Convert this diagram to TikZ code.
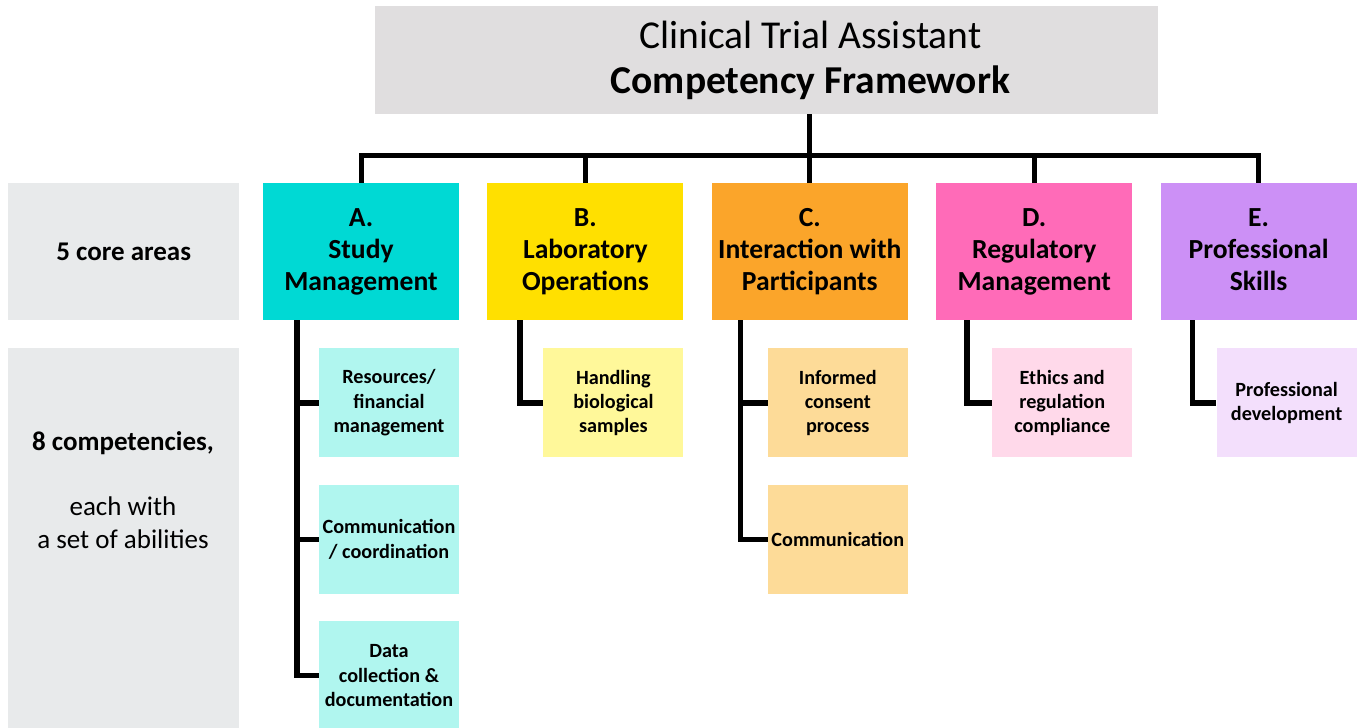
\documentclass[tikz,border=0pt]{standalone}
\usepackage{fontspec}
\setmainfont{Carlito}
\usetikzlibrary{positioning}

\definecolor{titlegray}{HTML}{E0DEDF}
\definecolor{sidegray}{HTML}{E8EAEB}
\definecolor{areaA}{HTML}{00D9D4}
\definecolor{compA}{HTML}{B0F6EF}
\definecolor{areaB}{HTML}{FFE000}
\definecolor{compB}{HTML}{FFF89A}
\definecolor{areaC}{HTML}{FBA52A}
\definecolor{compC}{HTML}{FDDB98}
\definecolor{areaD}{HTML}{FF6BB8}
\definecolor{compD}{HTML}{FFD9EA}
\definecolor{areaE}{HTML}{CC90F6}
\definecolor{compE}{HTML}{F3DFFC}

\tikzset{
  area/.style={minimum width=196pt, minimum height=137pt, inner sep=0pt,
    align=center, font=\fontsize{27.6}{32}\selectfont\bfseries},
  comp/.style={minimum width=140pt, minimum height=109pt, inner sep=0pt,
    align=center, font=\fontsize{20.2}{24.4}\selectfont\bfseries},
  side/.style={fill=sidegray, anchor=north west, inner sep=0pt, minimum width=231pt},
  sidetext/.style={align=center, font=\fontsize{27}{32.5}\selectfont},
  bus/.style={line width=5pt},
  tree/.style={line width=5.5pt},
}

\begin{document}
\begin{tikzpicture}[x=1pt,y=1pt]
\useasboundingbox (0,0) rectangle (1360,-728);
% Title
\node[fill=titlegray, minimum width=783pt, minimum height=108pt, inner sep=0pt] (title) at (766.5,-60) {};
\node[align=center, font=\fontsize{39.5}{45}\selectfont] (titletext) at ([xshift=44pt]title.center)
  {Clinical Trial Assistant\\\textbf{Competency Framework}};
% Left labels
\node[side, minimum height=137pt] (coreside) at (8,-183) {};
\node[sidetext, font=\fontsize{27}{32.5}\selectfont\bfseries] (coretext) at (coreside.center) {5 core areas};
\node[side, minimum height=385pt] (compside) at (8,-348) {};
\node[sidetext] (comptext) at (123,-490) {\textbf{8 competencies,}\\[32.5pt]each with\\a set of abilities};
% Core areas
\node[area, fill=areaA] (A) at (361,-251.5) {A.\\Study\\Management};
\node[area, fill=areaB, right=28pt of A] (B) {B.\\Laboratory\\Operations};
\node[area, fill=areaC, right=28pt of B] (C) {C.\\Interaction with\\Participants};
\node[area, fill=areaD, right=28pt of C] (D) {D.\\Regulatory\\Management};
\node[area, fill=areaE, right=28pt of D] (E) {E.\\Professional\\Skills\vphantom{g}};
% Competencies
\node[comp, fill=compA, below=28pt of A.south east, anchor=north east] (a1) {Resources/\\financial\\management};
\node[comp, fill=compA, below=27pt of a1] (a2) {Communication\\/ coordination};
\node[comp, fill=compA, below=27pt of a2] (a3) {Data\\collection \&\\documentation};
\node[comp, fill=compB, below=28pt of B.south east, anchor=north east] (b1) {Handling\\biological\\samples};
\node[comp, fill=compC, below=28pt of C.south east, anchor=north east] (c1) {Informed\\consent\\process};
\node[comp, fill=compC, below=27pt of c1] (c2) {Communication};
\node[comp, fill=compD, below=28pt of D.south east, anchor=north east] (d1) {Ethics and\\regulation\\compliance};
\node[comp, fill=compE, below=28pt of E.south east, anchor=north east] (e1) {Professional\\development};
% Bus from title to core areas
\draw[bus] (A.north) -- ++(0,27pt) coordinate (busA) -| (E.north);
\draw[bus] (title.south -| C.north) -- (C.north);
\foreach \n in {B,D}
  \draw[bus] (\n.north) -- (\n.north |- busA);
% Trees to competencies
\draw[tree] ([xshift=34pt]A.south west) coordinate (ta) |- (a3.west);
\foreach \n in {a1,a2}
  \draw[tree] (\n.west) -- (\n.west -| ta);
\draw[tree] ([xshift=33pt]B.south west) |- (b1.west);
\draw[tree] ([xshift=29pt]C.south west) coordinate (tc) |- (c2.west);
\draw[tree] (c1.west) -- (c1.west -| tc);
\draw[tree] ([xshift=31pt]D.south west) |- (d1.west);
\draw[tree] ([xshift=32pt]E.south west) |- (e1.west);
\end{tikzpicture}
\end{document}
